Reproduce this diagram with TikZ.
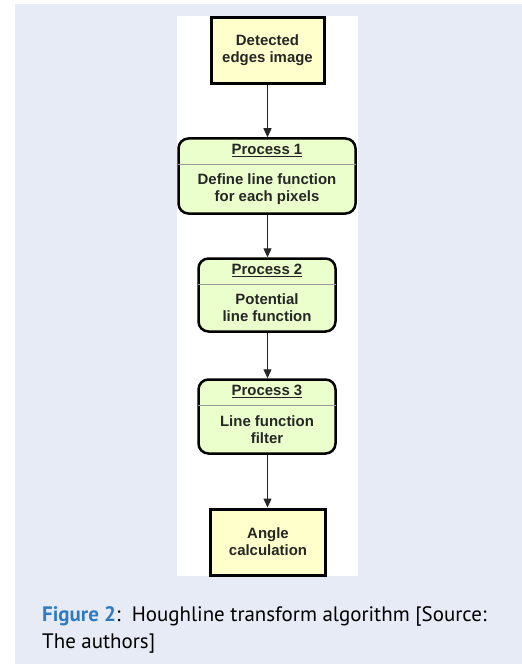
\documentclass[tikz,border=0pt]{standalone}
\usepackage{fontspec}
\setmainfont{Liberation Sans}
\newfontfamily\capfont{PT Sans}
\usetikzlibrary{arrows.meta,calc}
\definecolor{panelbg}{HTML}{E7EBF6}
\definecolor{boxyellow}{HTML}{FFFFCC}
\definecolor{boxgreen}{HTML}{EBFFCC}
\definecolor{txtgray}{HTML}{262626}
\definecolor{capblue}{HTML}{2E7BC0}
\definecolor{divgray}{HTML}{9A9A9A}
\begin{document}
\begin{tikzpicture}[x=1bp,y=-1bp,
  boxtext/.style={font=\fontsize{15}{17}\selectfont\bfseries, text=txtgray, align=center, inner sep=0pt},
  yellowbox/.style={draw=black, line width=3bp, fill=boxyellow, inner sep=0pt},
  procbox/.style={draw=black, line width=2.5bp, fill=boxgreen, rounded corners=10bp, inner sep=0pt},
  divider/.style={draw=divgray, line width=0.9bp},
  arr/.style={draw=txtgray, line width=1.3bp, -{Triangle[length=9bp,width=8bp]}},
  captext/.style={font=\capfont\fontsize{21}{27}\selectfont, inner sep=0pt, anchor=base west}
]
\useasboundingbox (0,0) rectangle (522,664);
\fill[panelbg] (15,4) rectangle (522,664);
\fill[white] (177,16) rectangle (358,576);

% boxes
\node[yellowbox, minimum width=113bp, minimum height=66bp] (det) at (267.5,50.5) {};
\node[boxtext] (dett) at (det.center) {Detected\\edges image};

\node[procbox, minimum width=177bp, minimum height=75bp] (p1) at (267,176) {};
\draw[divider] ($(p1.north west)+(1.2,27)$) -- ($(p1.north east)+(-1.2,27)$);
\node[boxtext] (p1t) at ($(p1.north)+(0,13.5)$) {\underline{Process 1}};
\node[boxtext] (p1b) at ($(p1.north)+(0,52)$) {Define line function\\for each pixels};

\node[procbox, minimum width=137bp, minimum height=73bp] (p2) at (267,295) {};
\draw[divider] ($(p2.north west)+(1.2,27)$) -- ($(p2.north east)+(-1.2,27)$);
\node[boxtext] (p2t) at ($(p2.north)+(0,13)$) {\underline{Process 2}};
\node[boxtext] (p2b) at ($(p2.north)+(0,50.5)$) {Potential\\line function};

\node[procbox, minimum width=137bp, minimum height=74bp] (p3) at (267,416.5) {};
\draw[divider] ($(p3.north west)+(1.2,27)$) -- ($(p3.north east)+(-1.2,27)$);
\node[boxtext] (p3t) at ($(p3.north)+(0,13)$) {\underline{Process 3}};
\node[boxtext] (p3b) at ($(p3.north)+(0,51)$) {Line function\\filter};

\node[yellowbox, minimum width=115bp, minimum height=66bp] (ang) at (268,542) {};
\node[boxtext] (angt) at (ang.center) {Angle\\calculation};

% arrows
\draw[arr] (det.south) -- (det.south |- p1.north);
\draw[arr] (det.south |- p1.south) -- (det.south |- p2.north);
\draw[arr] (det.south |- p2.south) -- (det.south |- p3.north);
\draw[arr] (det.south |- p3.south) -- (det.south |- ang.north);

% caption
\node[captext] (cap1) at (42,621) {\textcolor{capblue}{\bfseries Figure 2}:\ \ Houghline transform algorithm [Source:};
\node[captext] (cap2) at (42,648) {The authors]};
\end{tikzpicture}
\end{document}
